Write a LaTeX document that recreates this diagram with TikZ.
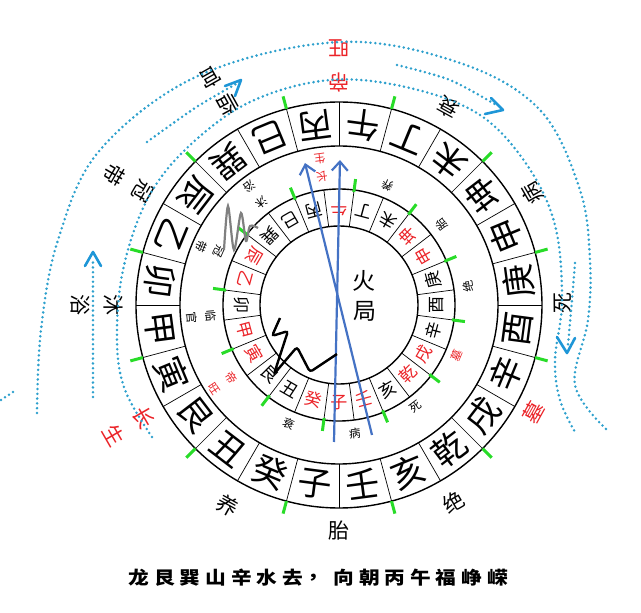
\documentclass[tikz,border=0pt]{standalone}
\usepackage{fontspec}
\newfontfamily\cjk{Noto Sans CJK SC}
\usetikzlibrary{arrows.meta}
\definecolor{water}{RGB}{45,160,205}
\definecolor{waterhd}{RGB}{30,150,215}
\definecolor{arrowblue}{RGB}{68,114,196}
\definecolor{tickgreen}{RGB}{40,220,40}
\definecolor{redtxt}{RGB}{235,35,40}
\tikzset{
  ringline/.style={line width=1.4pt},
  divline/.style={line width=0.7pt},
  bigchar/.style={font=\cjk\fontsize{34}{34}\selectfont, inner sep=0pt},
  midchar/.style={font=\cjk\fontsize{17}{17}\selectfont, inner sep=0pt},
  smallchar/.style={font=\cjk\fontsize{11.5}{11.5}\selectfont, inner sep=0pt},
  outlabel/.style={font=\cjk\fontsize{21}{21}\selectfont, inner sep=0pt},
  centerchar/.style={font=\cjk\fontsize{23}{23}\selectfont, inner sep=0pt},
  captionchar/.style={font=\cjk\bfseries\fontsize{18}{18}\selectfont, inner sep=0pt, xscale=1.15},
  gtick/.style={tickgreen, line width=3pt},
  waterline/.style={water, line width=2.8pt, dash pattern=on 0pt off 4.8pt, line cap=round},
  waterhead/.style={waterhd, line width=2.6pt, line cap=round, line join=round},
  flowarrow/.style={arrowblue, line width=2.2pt, -{Straight Barb[length=9pt,width=16pt]}},
}
\begin{document}
\begin{tikzpicture}[x=1pt,y=1pt]
\useasboundingbox (-339,-308) rectangle (302,305);
\coordinate (O) at (0,0);
% rings
\draw[ringline] (O) circle (203);
\draw[ringline] (O) circle (159);
\draw[ringline] (O) circle (116);
\draw[ringline] (O) circle (79);
\foreach \i in {0,...,23} {
  \draw[divline] (\i*15:159) -- (\i*15:203);
  \draw[divline] (\i*15+7.5:79) -- (\i*15+7.5:116);
}
% green ticks
\foreach \i in {0,...,11} {
  \draw[gtick] (\i*30+15:203) -- (\i*30+15:216);
  \draw[gtick] (\i*30+22.5:114) -- (\i*30+22.5:127);
}
% outer ring
\foreach \c [count=\k from 0] in {丙,午,丁,未,坤,申,庚,酉,辛,戌,乾,亥,壬,子,癸,丑,艮,寅,甲,卯,乙,辰,巽,巳} {
  \node[bigchar, rotate={97.5-15*\k+90}] (out\k) at ({97.5-15*\k}:181) {\c};
}
% inner ring
\foreach \c/\col [count=\k from 0] in {丙/black,午/redtxt,丁/black,未/black,坤/redtxt,申/redtxt,庚/black,酉/black,辛/black,戌/redtxt,乾/redtxt,亥/black,壬/redtxt,子/redtxt,癸/redtxt,丑/black,艮/black,寅/redtxt,甲/redtxt,卯/black,乙/redtxt,辰/redtxt,巽/black,巳/black} {
  \node[midchar, text=\col, rotate={105-15*\k+90}] (in\k) at ({105-15*\k}:97.5) {\c};
}
% inner stage labels
\foreach \c/\a/\r/\col [count=\k] in {长/97.5/130/redtxt,生/97.5/148/redtxt,沐/127/128/black,浴/127/149/black,冠/156/131/black,带/157/150/black,临/185/129/black,官/185/148/black,帝/-146/130/redtxt,旺/-146/150/redtxt,衰/-113/129/black,病/-83/129/black,死/-53/128/black,墓/-23/128/redtxt,绝/8/130/black,胎/38/130/black,养/68/129/black} {
  \node[smallchar, text=\col, rotate={\a+90}] (st\k) at (\a:\r) {\c};
}
% outer stage labels
\foreach \c/\a/\r/\col [count=\k] in {帝/90/222/redtxt,旺/90/257/redtxt,临/119/229/black,官/119.5/261/black,冠/150/227/black,带/150/260/black,沐/180/226/black,浴/180/259/black,长/-150/226/redtxt,生/-150/260/redtxt,养/-119/229/black,胎/-90/226/black,绝/-60/228/black,墓/-29/222/redtxt,死/0.5/224/black,病/30/223/black,衰/61/226/black} {
  \node[outlabel, text=\col, rotate={\a+90}] (os\k) at (\a:\r) {\c};
}
% center
\node[centerchar] (huo) at (25,24) {火};
\node[centerchar] (ju) at (26,-6) {局};
% caption
\foreach \c [count=\k from 0] in {龙,艮,巽,山,辛,水,去,，,向,朝,丙,午,福,峥,嵘} {
  \node[captionchar] (cap\k) at ({-200+25.6*\k},-273) {\c};
}
% free-form paths in pixel coordinates
\begin{scope}[shift={(-339,305)}, yscale=-1]
  % water lines
  \draw[waterline] plot[smooth, tension=0.6] coordinates {(37,413) (41,330) (58,240) (100,150) (200,75) (340,42) (460,63) (540,110) (580,190) (590,260) (588,320) (575,385) (607,430)};
  \draw[waterline] plot[smooth, tension=0.6] coordinates {(152,437) (125,390) (117,340) (123,270) (147,200) (187,148) (250,102) (330,80) (410,88) (480,115) (527,165) (555,225) (562,300) (555,360) (560,400) (575,432)};
  \draw[waterline] (1,400) -- (13,392);
  % flow arrows of the water
  \draw[waterline] (93,397) -- (93,258);
  \draw[waterhead] (85,266) -- (93,252) -- (101,266);
  \draw[waterline] plot[smooth] coordinates {(147,142) (195,108) (236,84)};
  \draw[waterhead] (225,86) -- (241,80) -- (235,96);
  \draw[waterline] plot[smooth] coordinates {(397,65) (450,80) (498,106)};
  \draw[waterhead] (491,98) -- (503,110) -- (485,114);
  \draw[waterline] plot[smooth] coordinates {(575,263) (572,300) (568,345)};
  \draw[waterhead] (557,337) -- (567,353) -- (575,338);
  % blue arrows
  \draw[flowarrow] (372,435) -- (305,163);
  \draw[flowarrow] (334,442) -- (340,160);
  % zigzags
  \draw[black, line width=2.4pt, rounded corners=3pt] (280,318) -- (272,336) -- (288,331) -- (274,374) -- (297,347) -- (310,372) -- (337,354);
  \draw[gray, line width=2.2pt] plot[smooth, tension=0.5] coordinates {(224,250) (228,206) (234,250) (241,213) (246,241) (250,226) (258,228)};
\end{scope}
\end{tikzpicture}
\end{document}
